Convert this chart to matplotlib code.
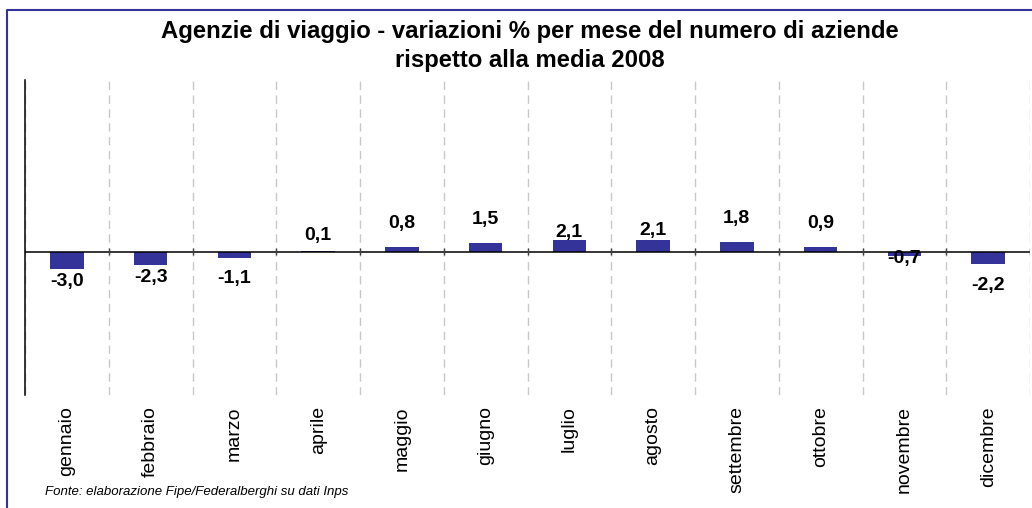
#!/usr/bin/env python3
"""Agenzie di viaggio - variazioni % mensili del numero di aziende (2008)."""
import numpy as np
import matplotlib
matplotlib.use('Agg')
import matplotlib.pyplot as plt
from matplotlib.lines import Line2D

plt.rcParams['font.family'] = ['Liberation Sans', 'DejaVu Sans']

# Data
mesi = ['gennaio', 'febbraio', 'marzo', 'aprile', 'maggio', 'giugno',
        'luglio', 'agosto', 'settembre', 'ottobre', 'novembre', 'dicembre']
variazioni = [-3.0, -2.3, -1.1, 0.1, 0.8, 1.5, 2.1, 2.1, 1.8, 0.9, -0.7, -2.2]

# where each value label sits (y, data units) - placed by hand in the original
label_y = [-5.2, -4.4, -4.7, 2.8, 4.9, 5.6, 3.3, 3.7, 5.8, 4.9, -1.2, -5.8]

BAR_COLOR = '#333399'
W, H = 1032, 508

fig = plt.figure(figsize=(W / 100, H / 100), dpi=100)
ax = fig.add_axes([25 / W, 1 - 395 / H, (1030 - 25) / W, (395 - 80) / H])

x = np.arange(len(mesi))
ax.bar(x, variazioni, width=0.4, color=BAR_COLOR, zorder=3)

# value labels
for xi, v, ly in zip(x, variazioni, label_y):
    ax.text(xi, ly, f'{v:.1f}'.replace('.', ','), ha='center', va='center',
            fontsize=14, fontweight='bold', zorder=4)

ax.set_xlim(-0.5, len(mesi) - 0.5)
ax.set_ylim(-25, 30)

# zero line with category boundary ticks
ax.axhline(0, color='black', lw=1.1, zorder=5)
bounds = np.arange(len(mesi) + 1) - 0.5
ax.vlines(bounds[1:], -0.6, 0.6, color='#404040', lw=1, zorder=5)

# dashed gridlines on category boundaries
ax.set_xticks(bounds, minor=True)
ax.grid(axis='x', which='minor', color='#c8c8c8', ls=(0, (6, 4)), lw=1)
ax.tick_params(axis='x', which='both', length=0)

ax.set_xticks(x)
ax.set_xticklabels(mesi, rotation=90, fontsize=14, va='top')
ax.tick_params(axis='x', pad=8)
ax.set_yticks([])

for s in ['top', 'right', 'bottom']:
    ax.spines[s].set_visible(False)
ax.spines['left'].set_color('black')
ax.spines['left'].set_linewidth(1.1)

# title
fig.text(530 / W, 1 - 46 / H,
         'Agenzie di viaggio - variazioni % per mese del numero di aziende\n'
         'rispetto alla media 2008',
         ha='center', va='center', fontsize=17.2, fontweight='bold',
         linespacing=1.3)

# source note
fig.text(45 / W, 1 - 492 / H,
         'Fonte: elaborazione Fipe/Federalberghi su dati Inps',
         ha='left', va='center', fontsize=9.5, style='italic')

# chart-area border (left and top visible in the crop)
fig.add_artist(Line2D([7 / W, 7 / W, 1.0], [0, 1 - 10 / H, 1 - 10 / H],
                      color=BAR_COLOR, lw=1.5))

plt.savefig('out.png', dpi=100)
plt.close()
